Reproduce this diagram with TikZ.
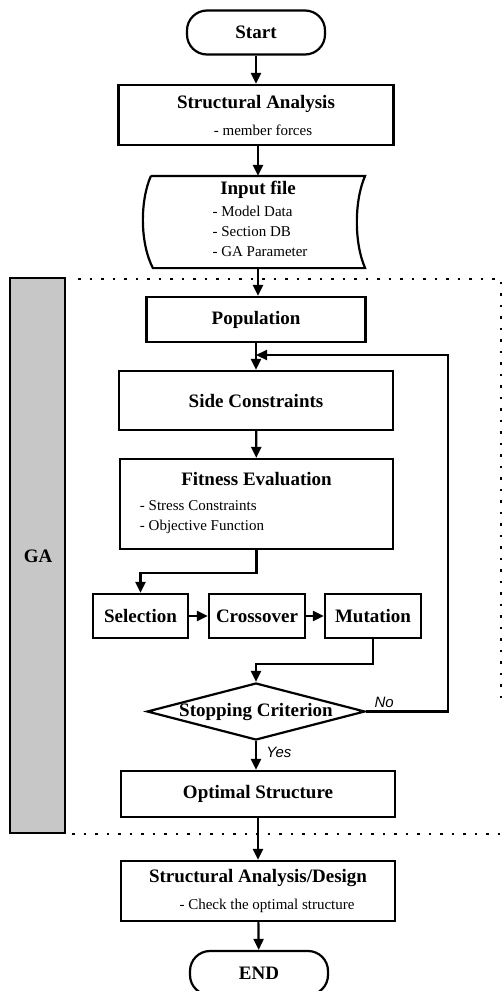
\documentclass[tikz,border=0pt]{standalone}
\usepackage{fontspec}
\setmainfont{Liberation Serif}
\newfontfamily\labelfont{Liberation Sans}
\usetikzlibrary{arrows.meta,shapes.geometric}

\newcommand{\hd}{\fontsize{19}{22}\selectfont\bfseries}
\newcommand{\sm}{\fontsize{15}{20}\selectfont\mdseries}

\begin{document}
\begin{tikzpicture}[x=1pt, y=-1pt,
  line width=2.2pt,
  >={Triangle[length=11pt,width=10pt]},
  proc/.style={rectangle, draw, inner sep=0pt, align=center, font=\hd},
  term/.style={rectangle, draw, rounded corners=20pt, inner sep=0pt, font=\hd,
               minimum width=138pt, minimum height=44pt},
  decision/.style={diamond, draw, inner sep=0pt, minimum width=218pt, minimum height=57pt},
  dots/.style={line width=2.5pt, dash pattern=on 2.5pt off 9pt},
  yn/.style={font=\labelfont\itshape\fontsize{15}{18}\selectfont}]
  \useasboundingbox (0,0) rectangle (502,991);

  % GA region
  \draw[fill=black!22, line width=2.4pt] (10,278) rectangle (65,833);
  \node[font=\hd] (ga) at (38,556) {GA};
  \draw[dots] (78,279) -- (501,279) -- (501,705);
  \draw[dots] (72,834) -- (502,834);

  \node[term] (start) at (256,32.5) {Start};

  \node[proc, minimum width=275pt, minimum height=60pt] (sa) at (256,115)
    {Structural Analysis\\[5pt] {\sm\hspace*{14pt}- member forces}};

  \node[minimum width=212pt, minimum height=90pt, inner sep=0pt, align=center] (input) at (258,222)
    {{\hd Input file}\\[3pt] {\sm\hspace*{4pt}\begin{tabular}[t]{@{}l@{}}- Model Data\\- Section DB\\- GA Parameter\end{tabular}}};
  \draw (input.north west) -- (input.north east)
    .. controls ([xshift=-11pt,yshift=-25pt]input.north east) and ([xshift=-11pt,yshift=25pt]input.south east) .. (input.south east)
    -- ([xshift=2pt]input.south west)
    .. controls ([xshift=-11pt,yshift=25pt]input.south west) and ([xshift=-11pt,yshift=-25pt]input.north west) .. (input.north west);

  \node[proc, minimum width=219pt, minimum height=45pt] (pop) at (256,319.5) {Population};
  \node[proc, minimum width=274pt, minimum height=59pt] (side) at (256,400.5) {Side Constraints};

  \node[proc, minimum width=273pt, minimum height=90pt] (fit) at (256.5,504)
    {Fitness Evaluation\\[3pt]
     {\sm\begin{tabular}[t]{@{}l@{}}- Stress Constraints\\- Objective Function\end{tabular}\hspace*{109pt}}};

  \node[proc, minimum width=95pt, minimum height=44pt] (sel) at (140.5,616) {Selection};
  \node[proc, minimum width=96pt, minimum height=44pt] (cro) at (257,616) {Crossover};
  \node[proc, minimum width=96pt, minimum height=44pt] (mut) at (373,616) {Mutation};

  \node[decision] (stop) at (256,711.5) {};
  \node[font=\hd] (stoptxt) at (stop) {Stopping Criterion};

  \node[proc, minimum width=274pt, minimum height=46pt] (opt) at (258,794) {Optimal Structure};
  \node[proc, minimum width=274pt, minimum height=60pt] (sad) at (258,891)
    {Structural Analysis/Design\\[5pt] {\sm\hspace*{18pt}- Check the optimal structure}};
  \node[term] (end) at (259,973) {END};

  \coordinate (back) at (256,355);

  \draw[->] (start) -- (sa);
  \draw[->] (sa.south -| input.north) -- (input.north);
  \draw[->] (input.south) -- (pop.north -| input.south);
  \draw[->] (pop.south -| side.north) -- (side.north);
  \draw[->] (side) -- (fit);
  \draw[->] (fit.south) -- ++(0,23) -| (sel.north);
  \draw[->] (sel) -- (cro);
  \draw[->] (cro) -- (mut);
  \draw[->] (mut.south) -- ++(0,25) -| (stop.north);
  \draw[->] (stop.east) -- (448,711.5) -- (448,355) -- (back);
  \draw[->] (stop.south) -- (opt.north -| stop.south);
  \draw[->] (opt) -- (sad);
  \draw[->] (sad) -- (end);

  \node[yn, anchor=south west] (no) at ([xshift=4pt,yshift=-1pt]stop.east) {No};
  \node[yn, anchor=west] (yes) at (262,752) {Yes};
\end{tikzpicture}
\end{document}
